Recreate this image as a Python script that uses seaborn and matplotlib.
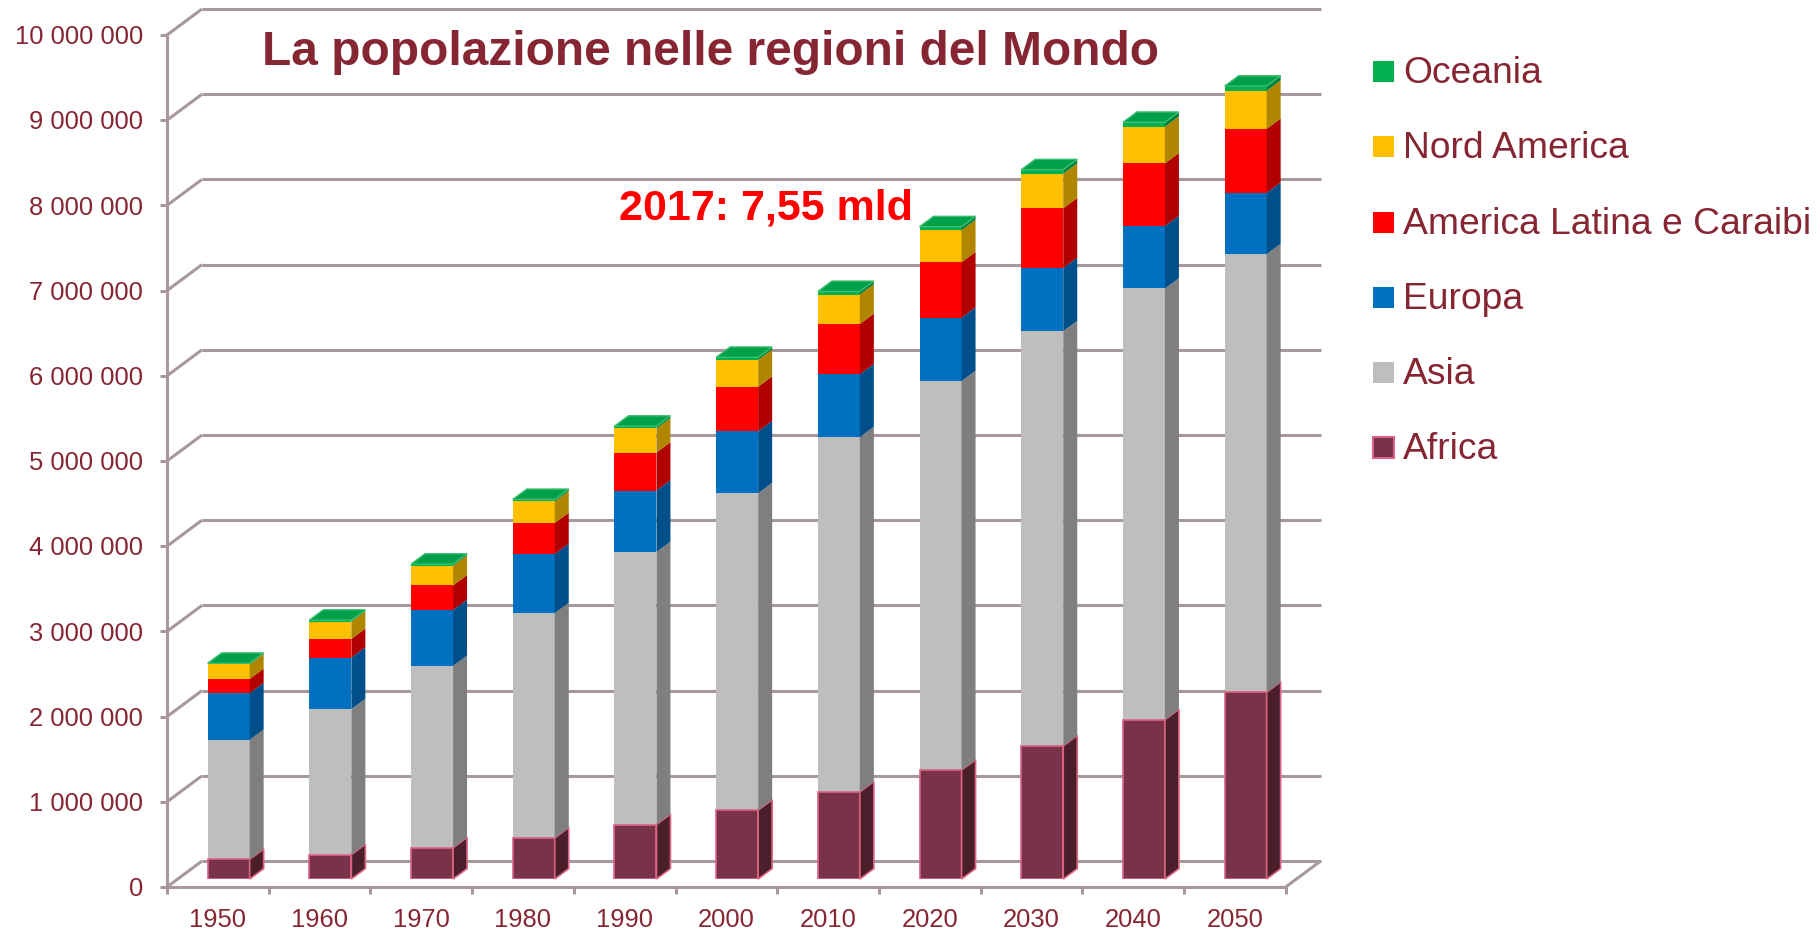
import numpy as np
import matplotlib
matplotlib.use("Agg")
import matplotlib.pyplot as plt
import matplotlib.patches as mpatches
from matplotlib.transforms import offset_copy
import seaborn as sns

# population in thousands
years = ["1950", "1960", "1970", "1980", "1990", "2000", "2010", "2020", "2030", "2040", "2050"]
africa = [230000, 285000, 366000, 482000, 639000, 808000, 1022000, 1278000, 1562000, 1870000, 2192000]
asia = [1403000, 1709000, 2135000, 2638000, 3199000, 3719000, 4164000, 4566000, 4868000, 5061000, 5142000]
europa = [547000, 604000, 656000, 694000, 721000, 727000, 738000, 744000, 741000, 733000, 719000]
america_latina = [167000, 220000, 288000, 364000, 446000, 524000, 590000, 650000, 701000, 735000, 751000]
nord_america = [172000, 204000, 231000, 254000, 283000, 314000, 345000, 376000, 406000, 430000, 447000]
oceania = [13000, 16000, 20000, 23000, 27000, 31000, 37000, 42000, 47000, 52000, 55000]

regions = ["Africa", "Asia", "Europa", "America Latina e Caraibi", "Nord America", "Oceania"]
series = [africa, asia, europa, america_latina, nord_america, oceania]
front_colors = ["#78334A", "#BEBEBE", "#0070C0", "#FF0000", "#FFC000", "#00B050"]
side_colors = ["#4A1E2B", "#7F7F7F", "#004E8A", "#B00000", "#B08500", "#00803A"]
y_ticks = np.arange(0, 10_000_001, 1_000_000)

TXT = "#862633"
GRID = "#A8989D"
PINK = "#DC6482"
W, H, DPI = 1820, 931, 100

sns.set_style("white")
plt.rcParams["font.family"] = ["Liberation Sans", "DejaVu Sans"]

fig = plt.figure(figsize=(W / DPI, H / DPI), dpi=DPI)
# axes = plane of the bars' front faces (pixel geometry, top-origin)
bx0, bw, by0, bh = 177.8, 1118.7, 879.0, 852.0
ax = fig.add_axes([bx0 / W, (H - by0) / H, bw / W, bh / H])

# stacked front faces with seaborn: draw cumulative totals from top down
cum = np.cumsum(np.array(series, dtype=float), axis=0)
bar_w = 0.413
for k in range(len(regions) - 1, -1, -1):
    edge = PINK if k == 0 else "none"
    sns.barplot(x=years, y=cum[k], color=front_colors[k], saturation=1, width=bar_w,
                errorbar=None, ax=ax, edgecolor=edge, linewidth=1.2 if k == 0 else 0, zorder=3)

ax.set_xlim(-0.5, len(years) - 0.5)
ax.set_ylim(0, 10_000_000)
ax.axis("off")

ppx = bw / len(years)          # pixels per category
ppy = bh / 10_000_000          # pixels per unit

FRONT = (-10.8, -8.0)   # front plane relative to bar plane (px, y up)
BACK = (24.2, 18.0)     # back wall relative to bar plane
DEPTH = (14.0, 10.4)    # bar depth


def sh(x, y, off):
    return x + off[0] / ppx, y + off[1] / ppy


def seg(p, q, **kw):
    ax.plot([p[0], q[0]], [p[1], q[1]], color=GRID, lw=2.2, clip_on=False,
            solid_capstyle="butt", zorder=1, **kw)


x_left, x_right = -0.5, len(years) - 0.5
for v in y_ticks:
    seg(sh(x_left, v, BACK), sh(x_right, v, BACK))
    seg(sh(x_left, v, FRONT), sh(x_left, v, BACK))
    # tick mark on front axis
    seg(sh(x_left, v, (FRONT[0] - 7, FRONT[1])), sh(x_left, v, FRONT))
seg(sh(x_left, 0, FRONT), sh(x_left, 10_000_000, FRONT))
seg(sh(x_left, 0, FRONT), sh(x_right, 0, FRONT))
seg(sh(x_right, 0, FRONT), sh(x_right, 0, BACK))
for k in range(len(years) + 1):
    xb = k - 0.5
    seg(sh(xb, 0, FRONT), sh(xb, 0, (FRONT[0], FRONT[1] - 7)))

# side faces and top face
ddx, ddy = DEPTH[0] / ppx, DEPTH[1] / ppy
for i in range(len(years)):
    xl, xr = i - bar_w / 2, i + bar_w / 2
    y0 = 0.0
    for k in range(len(regions)):
        y1 = cum[k][i]
        poly = [(xr, y0), (xr, y1), (xr + ddx, y1 + ddy), (xr + ddx, y0 + ddy)]
        ax.add_patch(mpatches.Polygon(poly, closed=True, facecolor=side_colors[k],
                                      edgecolor=PINK if k == 0 else "none",
                                      lw=1.2 if k == 0 else 0, clip_on=False, zorder=4))
        y0 = y1
    top = [(xl, y0), (xr, y0), (xr + ddx, y0 + ddy), (xl + ddx, y0 + ddy)]
    ax.add_patch(mpatches.Polygon(top, closed=True, facecolor="#00A04A", edgecolor="#3CC070",
                                  lw=1.0, clip_on=False, zorder=5))

# tick labels
ytr = offset_copy(ax.transData, fig, x=FRONT[0] - 24, y=FRONT[1] - 9.2, units="dots")
for v in y_ticks:
    ax.text(x_left, v, f"{v:,}".replace(",", " "), transform=ytr, ha="right", va="baseline",
            fontsize=18.4, color=TXT, clip_on=False)
xtr = offset_copy(ax.transData, fig, x=FRONT[0], y=FRONT[1] - 40, units="dots")
for i, yr in enumerate(years):
    ax.text(i, 0, yr, transform=xtr, ha="center", va="baseline", fontsize=18.4,
            color=TXT, clip_on=False)

# title and annotation
fig.text(262 / W, 1 - 65 / H, "La popolazione nelle regioni del Mondo", fontsize=34.5,
         fontweight="bold", color=TXT, ha="left", va="baseline")
fig.text(619 / W, 1 - 220 / H, "2017: 7,55 mld", fontsize=31, fontweight="bold",
         color="#FF0000", ha="left", va="baseline")

# legend, top to bottom
leg_edges = [PINK, "none", "none", "none", "none", "none"]
for r, k in enumerate(range(len(regions) - 1, -1, -1)):
    base = 83.3 + r * 75.2
    yc = base - 11.6
    fig.patches.append(mpatches.Rectangle((1373 / W, 1 - (yc + 10.5) / H), 21 / W, 21 / H,
                                          transform=fig.transFigure, facecolor=front_colors[k],
                                          edgecolor=leg_edges[k], lw=1.5, figure=fig))
    fig.text(1403 / W, 1 - base / H, regions[k], fontsize=26.8, color=TXT,
             ha="left", va="baseline")

fig.savefig("out.png", dpi=DPI)
